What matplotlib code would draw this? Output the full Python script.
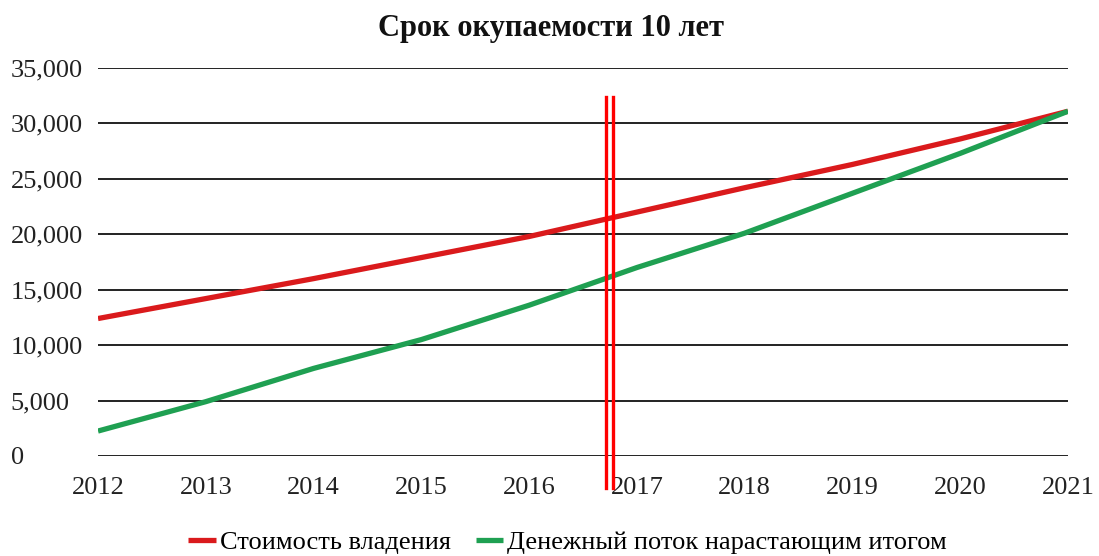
import matplotlib
matplotlib.use("Agg")
import matplotlib.pyplot as plt
from matplotlib.ticker import FuncFormatter

years = [2012, 2013, 2014, 2015, 2016, 2017, 2018, 2019, 2020, 2021]
ownership_cost = [12400, 14200, 16000, 17900, 19800, 22000, 24200, 26300, 28600, 31100]
cum_cash_flow = [2250, 4900, 7900, 10500, 13600, 17000, 20100, 23700, 27300, 31100]
payback_marks = [2016.71, 2016.78]
series_names = ["Стоимость владения", "Денежный поток нарастающим итогом"]
title = "Срок окупаемости 10 лет"

plt.rcParams['font.family'] = ['Liberation Serif', 'DejaVu Serif']

fig = plt.figure(figsize=(10.99, 5.56), dpi=100)
ax = fig.add_axes([0.0892, 0.1799, 0.9718 - 0.0892, 0.8777 - 0.1799])

ax.plot(years, ownership_cost, color="#DA1A1C", lw=3.8, solid_capstyle="butt", label=series_names[0], zorder=3)
ax.plot(years, cum_cash_flow, color="#1FA052", lw=3.8, solid_capstyle="butt", label=series_names[1], zorder=3)

for xv in payback_marks:
    ax.plot([xv, xv], [-2900, 32400], color="#FF0000", lw=2.4, clip_on=False, zorder=4)

ax.set_xlim(2012, 2021)
ax.set_ylim(0, 35000)
ax.set_yticks(range(0, 35001, 5000))
ax.set_xticks(years)
ax.yaxis.set_major_formatter(FuncFormatter(lambda v, p: f"{int(v):,}"))
ax.grid(axis='y', color="#222222", lw=1.4)
ax.set_axisbelow(True)
for s in ax.spines.values():
    s.set_visible(False)
ax.tick_params(axis='both', length=0, labelsize=19, colors="#222222")
ax.tick_params(axis='y', pad=63)
ax.tick_params(axis='x', pad=15)
for lab in ax.get_yticklabels():
    lab.set_ha('left')

fig.text(0.501, 0.948, title, ha='center', va='center', fontsize=22, fontweight='bold', color="#111111")

fig.legend(loc='center', bbox_to_anchor=(0.5164, 0.024), ncol=2, frameon=False,
           fontsize=19, handlelength=1.05, handletextpad=0.15, columnspacing=0.95)

fig.savefig("out.png", dpi=100)
